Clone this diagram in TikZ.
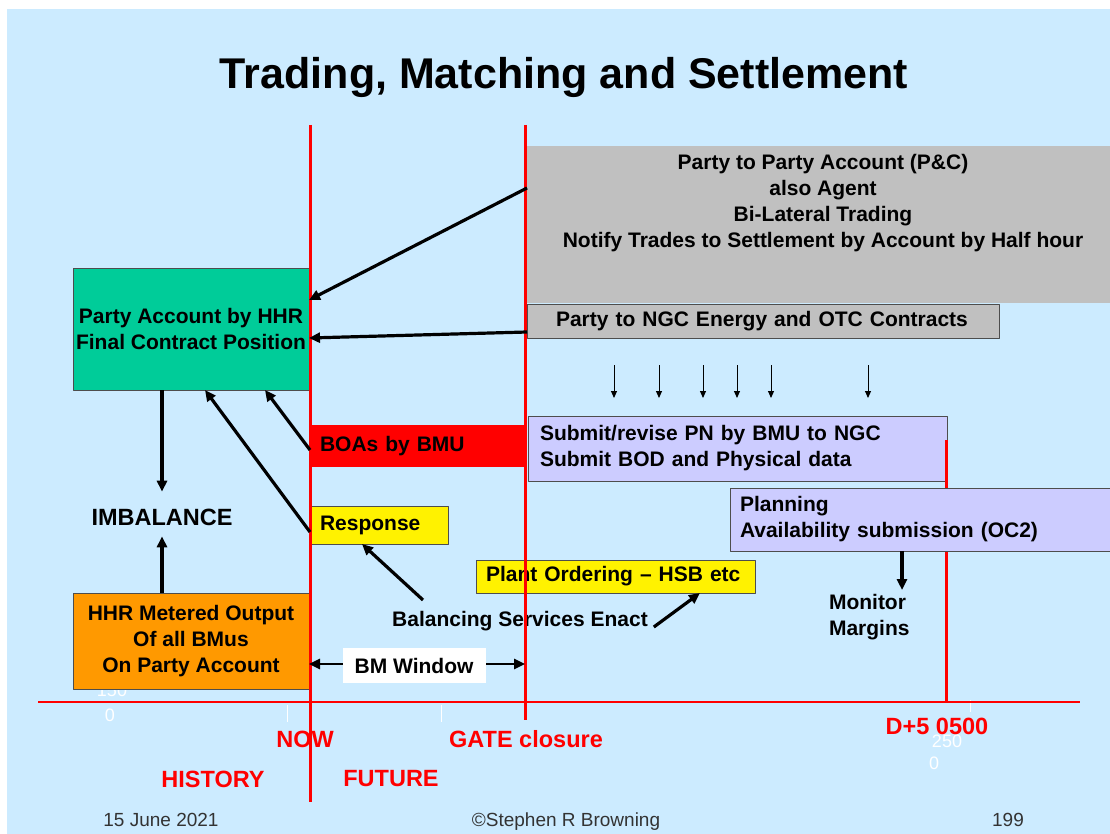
\documentclass[tikz,border=0pt]{standalone}
\usepackage{fontspec}
\setmainfont{Liberation Sans}
\usetikzlibrary{arrows.meta}
\definecolor{slidebg}{HTML}{CCEBFF}
\definecolor{acctgreen}{HTML}{00CC99}
\definecolor{meterorange}{HTML}{FF9900}
\definecolor{notegrey}{HTML}{C0C0C0}
\definecolor{submitlilac}{HTML}{CCCCFF}
\definecolor{edgegrey}{HTML}{4D4D4D}
\definecolor{footgrey}{HTML}{333333}
\newcommand{\bodyfont}{\fontsize{21}{26}\selectfont\bfseries}
\newcommand{\redfont}{\fontsize{23.5}{26}\selectfont\bfseries}
\begin{document}
\begin{tikzpicture}[x=1pt,y=-1pt,line join=round,>={Triangle[length=11pt,width=10pt]}]
	\tikzset{every node/.style={inner sep=0pt,outer sep=0pt},
		box/.style={draw=edgegrey,line width=1pt,anchor=north west,font=\bodyfont},
		lbox/.style={box,align=left,text width=#1},
		thick arrow/.style={->,line width=3.2pt},
		tick arrow/.style={-{Triangle[length=7pt,width=6pt]},line width=1pt},
		timeline/.style={red,line width=3pt},
		redlabel/.style={text=red,font=\redfont},
		foot/.style={text=footgrey,anchor=base,font=\fontsize{19}{22}\selectfont}}
	\useasboundingbox (0,0) rectangle (1110,834);
	\fill[white] (0,0) rectangle (1110,834);
	\fill[slidebg] (7,9) rectangle (1110,834);
	% title
	\node[font=\fontsize{43}{48}\selectfont\bfseries] (title) at (564,77) {Trading, Matching and Settlement};
	% faint axis leftovers
	\node[text=white,font=\fontsize{18}{20}\selectfont] (lab150) at (112,690) {150};
	\node[text=white,font=\fontsize{18}{20}\selectfont] (lab0a) at (110,715) {0};
	\node[text=white,font=\fontsize{18}{20}\selectfont] (lab250) at (947,741) {250};
	\node[text=white,font=\fontsize{18}{20}\selectfont] (lab0b) at (934,763) {0};
	\draw[white,line width=0.6pt] (287,705)--(287,722) (441,705)--(441,722) (970,700)--(970,712);
	% left hand side
	\node[box,fill=acctgreen,minimum width=236pt,minimum height=122pt,align=center] (acct) at (73,268)
		{Party Account by HHR\\Final Contract Position};
	\node[box,fill=meterorange,minimum width=236pt,minimum height=96pt,align=center] (meter) at (73,593)
		{HHR Metered Output\\Of all BMus\\On Party Account};
	\node[font=\fontsize{23.5}{26}\selectfont\bfseries] (imbal) at (162,517) {IMBALANCE};
	% trading boxes
	\node[anchor=north west,fill=notegrey,minimum width=583pt,minimum height=157pt] (p2p) at (527,146) {};
	\node[font=\bodyfont,align=center] (p2ptext) at (823,203)
		{Party to Party Account (P\&C)\\also Agent\\Bi-Lateral Trading\\Notify Trades to Settlement by Account by Half hour};
	\node[lbox=414pt,fill=notegrey,inner xsep=29pt,minimum height=34pt] (ngc) at (527,304)
		{Party to NGC Energy and OTC Contracts};
	\node[anchor=north west,fill=red,text width=195pt,inner xsep=10pt,minimum height=42pt,font=\bodyfont] (boa) at (310,425)
		{BOAs by BMU};
	\node[lbox=395pt,fill=submitlilac,inner xsep=12pt,minimum height=65pt] (submit) at (528,416)
		{Submit/revise PN by BMU to NGC\\Submit BOD and Physical data};
	\foreach \x in {614,659,703,737,771,868}
		\draw[tick arrow] (\x,365) -- (\x,398);
	\draw[timeline] (946,440) -- (946,703);
	\node[lbox=360pt,fill=submitlilac,inner xsep=10pt,minimum height=63pt] (plan) at (730,488)
		{Planning\\Availability submission (OC2)};
	\node[font=\bodyfont,align=left,anchor=north west] (monitor) at (829,594) {Monitor\\Margins};
	\node[lbox=118pt,fill=yellow,inner xsep=10pt,minimum height=38pt] (resp) at (310,506) {Response};
	\node[lbox=259pt,fill=yellow,inner xsep=10pt,minimum height=33pt] (plant) at (476,560) {Plant Ordering -- HSB etc};
	\node[font=\bodyfont] (enact) at (520,621) {Balancing Services Enact};
	% time axis
	\draw[red,line width=1.5pt] (38,702) -- (1080,702);
	\draw[timeline] (310,125) -- (310,802);
	\draw[timeline] (525,125) -- (525,720);
	\coordinate (gateW) at (525,664);
	\draw[<->,line width=2.5pt] (meter.east |- gateW) -- (gateW);
	\node[fill=white,minimum width=143pt,minimum height=35pt,font=\bodyfont] (bmw) at (414,665.5) {BM Window};
	% flows
	\draw[thick arrow] (p2p.west |- 0,188) -- (acct.east |- 0,300);
	\draw[thick arrow] (ngc.west |- 0,332) -- (acct.east |- 0,338);
	\draw[thick arrow] (boa.west |- 0,450) -- (acct.south -| 265,0);
	\draw[thick arrow] (resp.west |- 0,532) -- (acct.south -| 205,0);
	\draw[thick arrow,shorten >=17pt] (acct.south -| imbal) -- (imbal.north);
	\draw[thick arrow,shorten >=11pt] (meter.north -| imbal) -- (imbal.south);
	\draw[thick arrow] (423,600) -- (resp.south -| 362,0);
	\draw[thick arrow] (enact.east) ++(6,6) -- (plant.south -| 700,0);
	\draw[thick arrow] (plan.south -| 902,0) -- (902,590);
	% red labels
	\node[redlabel] (now) at (305,739) {NOW};
	\node[redlabel] (gate) at (526,739) {GATE closure};
	\node[redlabel] (dfive) at (937,726) {D+5 0500};
	\node[redlabel] (hist) at (213,779) {HISTORY};
	\node[redlabel] (fut) at (391,779) {FUTURE};
	% footer
	\node[foot] (date) at (161,826) {15 June 2021};
	\node[foot] (author) at (566,826) {©Stephen R Browning};
	\node[foot] (page) at (1008,826) {199};
\end{tikzpicture}
\end{document}
